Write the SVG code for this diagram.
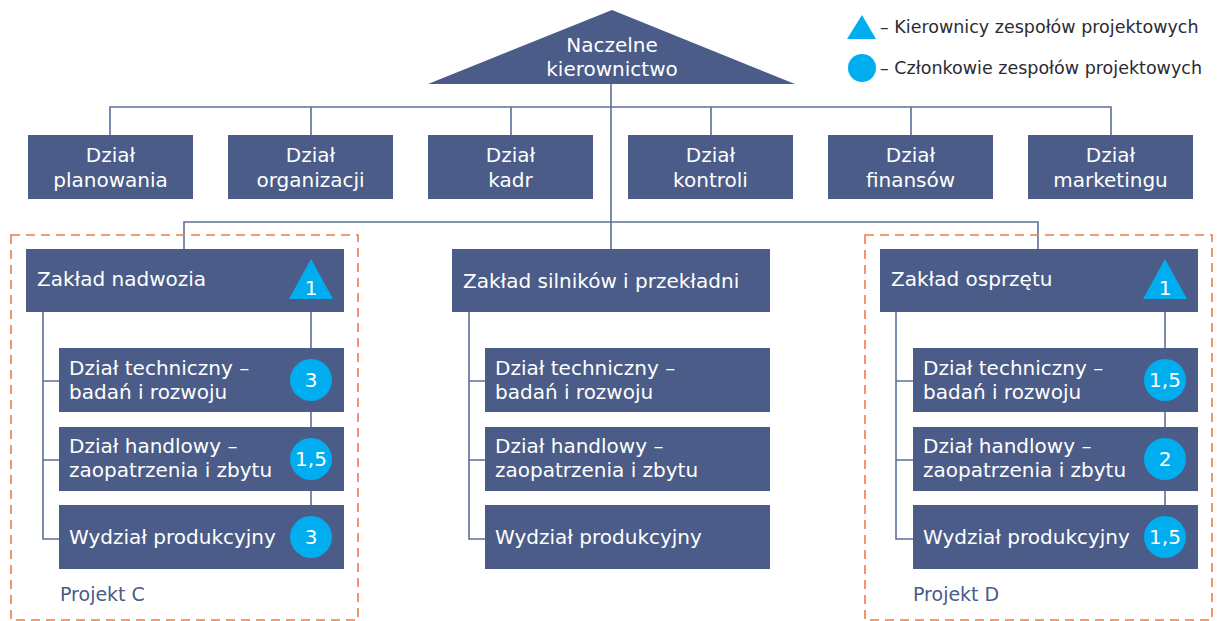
<svg xmlns="http://www.w3.org/2000/svg" width="1217" height="621" viewBox="0 0 1217 621">
<style>
.box{fill:#4a5c87}
.t{font-family:"DejaVu Sans","Liberation Sans",sans-serif;font-size:20px;fill:#ffffff}
.tc{text-anchor:middle}
.c{fill:none;stroke:#5f6f98;stroke-width:1.6}
.dash{fill:none;stroke:#f07a4a;stroke-width:1.6;stroke-dasharray:9 6}
.cy{fill:#00aeef}
.n{font-family:"DejaVu Sans","Liberation Sans",sans-serif;font-size:20px;fill:#ffffff;text-anchor:middle}
.lg{font-family:"DejaVu Sans","Liberation Sans",sans-serif;font-size:17.5px;fill:#2b2b33}
.pj{font-family:"DejaVu Sans","Liberation Sans",sans-serif;font-size:19px;fill:#4a5c87}
</style>
<rect width="1217" height="621" fill="#ffffff"/>
<g id="connectors">
<path class="c" d="M611,84 V249"/>
<path class="c" d="M110,135 V107 H1111 V135 M311,107 V135 M511,107 V135 M711,107 V135 M911,107 V135"/>
<path class="c" d="M184,249 V222 H1038 V249"/>
<path class="c" d="M43,312 V539 H59 M43,381 H59 M43,460 H59"/>
<path class="c" d="M311,312 V537"/>
<path class="c" d="M469,312 V539 H485 M469,381 H485 M469,460 H485"/>
<path class="c" d="M896,312 V539 H913 M896,381 H913 M896,460 H913"/>
<path class="c" d="M1165,312 V537"/>
</g>
<g id="projekt-c">
<rect class="dash" x="11" y="235" width="347" height="385"/>
<text class="pj" x="60" y="601">Projekt C</text>
</g>
<g id="projekt-d">
<rect class="dash" x="865" y="235" width="347" height="385"/>
<text class="pj" x="913" y="601">Projekt D</text>
</g>
<g id="naczelne">
<polygon class="box" points="612,10 795,84 428,84"/>
<text class="t tc" x="612" y="52">Naczelne</text>
<text class="t tc" x="612" y="76">kierownictwo</text>
</g>
<g id="d-planowania"><rect class="box" x="28" y="135" width="165" height="64"/><text class="t tc" x="110.5" y="162">Dział</text><text class="t tc" x="110.5" y="187">planowania</text></g>
<g id="d-organizacji"><rect class="box" x="228" y="135" width="165" height="64"/><text class="t tc" x="310.5" y="162">Dział</text><text class="t tc" x="310.5" y="187">organizacji</text></g>
<g id="d-kadr"><rect class="box" x="428" y="135" width="165" height="64"/><text class="t tc" x="510.5" y="162">Dział</text><text class="t tc" x="510.5" y="187">kadr</text></g>
<g id="d-kontroli"><rect class="box" x="628" y="135" width="165" height="64"/><text class="t tc" x="710.5" y="162">Dział</text><text class="t tc" x="710.5" y="187">kontroli</text></g>
<g id="d-finansow"><rect class="box" x="828" y="135" width="165" height="64"/><text class="t tc" x="910.5" y="162">Dział</text><text class="t tc" x="910.5" y="187">finansów</text></g>
<g id="d-marketingu"><rect class="box" x="1028" y="135" width="165" height="64"/><text class="t tc" x="1110.5" y="162">Dział</text><text class="t tc" x="1110.5" y="187">marketingu</text></g>

<g id="z-nadwozia"><rect class="box" x="26" y="249" width="318" height="63"/><text class="t" x="37" y="286">Zakład nadwozia</text>
<polygon class="cy" points="311,259 333,299 289,299"/><text class="n" x="311" y="295">1</text></g>
<g id="c-tech"><rect class="box" x="59" y="348" width="285" height="64"/><text class="t" x="69" y="375">Dział techniczny –</text><text class="t" x="69" y="399">badań i rozwoju</text>
<circle class="cy" cx="311" cy="380" r="21"/><text class="n" x="311" y="387">3</text></g>
<g id="c-handl"><rect class="box" x="59" y="427" width="285" height="64"/><text class="t" x="69" y="453">Dział handlowy –</text><text class="t" x="69" y="477">zaopatrzenia i zbytu</text>
<circle class="cy" cx="311" cy="459" r="21"/><text class="n" x="311" y="466">1,5</text></g>
<g id="c-prod"><rect class="box" x="59" y="505" width="285" height="64"/><text class="t" x="69" y="544">Wydział produkcyjny</text>
<circle class="cy" cx="311" cy="537" r="21"/><text class="n" x="311" y="544">3</text></g>

<g id="z-silnikow"><rect class="box" x="452" y="249" width="318" height="63"/><text class="t" x="463" y="288">Zakład silników i przekładni</text></g>
<g id="s-tech"><rect class="box" x="485" y="348" width="285" height="64"/><text class="t" x="495" y="375">Dział techniczny –</text><text class="t" x="495" y="399">badań i rozwoju</text></g>
<g id="s-handl"><rect class="box" x="485" y="427" width="285" height="64"/><text class="t" x="495" y="453">Dział handlowy –</text><text class="t" x="495" y="477">zaopatrzenia i zbytu</text></g>
<g id="s-prod"><rect class="box" x="485" y="505" width="285" height="64"/><text class="t" x="495" y="544">Wydział produkcyjny</text></g>

<g id="z-osprzetu"><rect class="box" x="880" y="249" width="318" height="63"/><text class="t" x="891" y="286">Zakład osprzętu</text>
<polygon class="cy" points="1165,259 1187,299 1143,299"/><text class="n" x="1165" y="295">1</text></g>
<g id="d-tech"><rect class="box" x="913" y="348" width="285" height="64"/><text class="t" x="923" y="375">Dział techniczny –</text><text class="t" x="923" y="399">badań i rozwoju</text>
<circle class="cy" cx="1165" cy="380" r="21"/><text class="n" x="1165" y="387">1,5</text></g>
<g id="d-handl"><rect class="box" x="913" y="427" width="285" height="64"/><text class="t" x="923" y="453">Dział handlowy –</text><text class="t" x="923" y="477">zaopatrzenia i zbytu</text>
<circle class="cy" cx="1165" cy="459" r="21"/><text class="n" x="1165" y="466">2</text></g>
<g id="d-prod"><rect class="box" x="913" y="505" width="285" height="64"/><text class="t" x="923" y="544">Wydział produkcyjny</text>
<circle class="cy" cx="1165" cy="537" r="21"/><text class="n" x="1165" y="544">1,5</text></g>

<g id="legend">
<polygon class="cy" points="862,15 876,39 847,39"/>
<text class="lg" x="880" y="33">– Kierownicy zespołów projektowych</text>
<circle class="cy" cx="862" cy="68" r="14"/>
<text class="lg" x="880" y="74">– Członkowie zespołów projektowych</text>
</g>
</svg>
